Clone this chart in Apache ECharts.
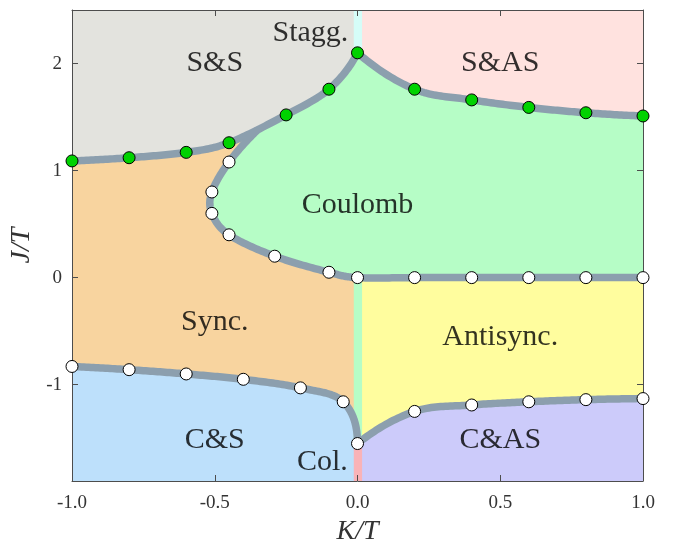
<!DOCTYPE html>
<html>
<head>
<meta charset="utf-8">
<script src="https://cdn.jsdelivr.net/npm/echarts@6/dist/echarts.min.js"></script>
<style>html,body{margin:0;padding:0;background:#fff}#c{width:673px;height:544px}</style>
</head>
<body>
<div id="c"></div>
<script>
// ---- data ----
const kMin = -1, kMax = 1, jMin = -1.9, jMax = 2.5;
const xTicks = [-1, -0.5, 0, 0.5, 1];
const yTicks = [-1, 0, 1, 2];

// upper boundary (green points)
const upperLeftK  = [-1, -0.8, -0.6, -0.45, -0.25, -0.1, 0];
const upperLeftJ  = [1.09, 1.12, 1.17, 1.26, 1.52, 1.76, 2.1];
const upperRightK = [0.2, 0.4, 0.6, 0.8, 1.0];
const upperRightJ = [1.76, 1.66, 1.59, 1.54, 1.51];

// Coulomb lobe boundary (white points) and J=0 line
const junctionK = -0.35, junctionJ = 1.38;   // where the lobe meets the upper boundary
const lobeK = [-0.45, -0.51, -0.51, -0.45, -0.29, -0.1];
const lobeJ = [1.08, 0.8, 0.6, 0.4, 0.2, 0.05];
const zeroK = [0, 0.2, 0.4, 0.6, 0.8, 1.0];
const zeroJ = [0, 0, 0, 0, 0, 0];

// lower boundaries (white points)
const lowerLeftK  = [-1, -0.8, -0.6, -0.4, -0.2, -0.05, 0];
const lowerLeftJ  = [-0.83, -0.86, -0.9, -0.95, -1.03, -1.16, -1.55];
const lowerRightK = [0.2, 0.4, 0.6, 0.8, 1.0];
const lowerRightJ = [-1.25, -1.19, -1.16, -1.14, -1.13];

// narrow strip around K = 0
const stripK = [-0.013, 0.016];

const regionNames = ['S&S', 'Stagg.', 'S&AS', 'Coulomb', 'Sync.', 'Antisync.', 'C&S', 'Col.', 'C&AS'];
const regionLabelK = [-0.5, -0.165, 0.5, 0.0, -0.5, 0.5, -0.5, -0.123, 0.5];
const regionLabelJ = [2.0, 2.28, 2.0, 0.68, -0.42, -0.56, -1.52, -1.72, -1.52];

// ---- helpers ----
const zip = (ks, js) => ks.map((k, i) => [k, js[i]]);
const upperLeft = zip(upperLeftK, upperLeftJ);
const upperRight = [upperLeft[upperLeft.length - 1]].concat(zip(upperRightK, upperRightJ));
const lobeCurve = [[junctionK, junctionJ]].concat(zip(lobeK, lobeJ), zip(zeroK, zeroJ));
const lowerLeft = zip(lowerLeftK, lowerLeftJ);
const lowerRight = [lowerLeft[lowerLeft.length - 1]].concat(zip(lowerRightK, lowerRightJ));

const greenPts = upperLeft.concat(zip(upperRightK, upperRightJ));
const whitePts = zip(lobeK, lobeJ).concat(zip(zeroK, zeroJ), lowerLeft, zip(lowerRightK, lowerRightJ));

const SEG = 24;
function smoothPx(pts) {
  const n = pts.length;
  if (n < 3) return pts.slice();
  const ext = (a, b, c) => [3 * a[0] - 3 * b[0] + c[0], 3 * a[1] - 3 * b[1] + c[1]];
  const P = [ext(pts[0], pts[1], pts[2])].concat(pts, [ext(pts[n - 1], pts[n - 2], pts[n - 3])]);
  const out = [pts[0]];
  for (let i = 1; i < n; i++) {
    const p0 = P[i - 1], p1 = P[i], p2 = P[i + 1], p3 = P[i + 2];
    const c1 = [p1[0] + (p2[0] - p0[0]) / 6, p1[1] + (p2[1] - p0[1]) / 6];
    const c2 = [p2[0] - (p3[0] - p1[0]) / 6, p2[1] - (p3[1] - p1[1]) / 6];
    for (let s = 1; s <= SEG; s++) {
      const t = s / SEG, u = 1 - t;
      const a = u * u * u, b = 3 * u * u * t, c = 3 * u * t * t, d = t * t * t;
      out.push([a * p1[0] + b * c1[0] + c * c2[0] + d * p2[0],
                a * p1[1] + b * c1[1] + c * c2[1] + d * p2[1]]);
    }
  }
  return out;
}

const C = {
  ss: '#e3e3de', sas: '#ffe2df', stagg: '#d5fdf8', coul: '#b6fdc6', sync: '#f8d49f',
  anti: '#fffd9e', cs: '#bde0fb', cas: '#cccbfa', col: '#f9b3b7', line: '#8c9fae'
};

function renderItem(params, api) {
  const px = p => api.coord(p);
  const curve = pts => smoothPx(pts.map(px));
  const rev = a => a.slice().reverse();
  const UL = curve(upperLeft), UR = curve(upperRight), LB = curve(lobeCurve);
  const LL = curve(lowerLeft), LR = curve(lowerRight);
  const poly = (points, fill) => ({ type: 'polygon', shape: { points }, style: { fill, stroke: null } });
  const line = (points) => ({ type: 'polyline', shape: { points },
    style: { stroke: C.line, lineWidth: 7.5, fill: null, lineJoin: 'round' } });
  const P = (k, j) => px([k, j]);
  const children = [
    poly(UL.concat([P(0, -1.55)], rev(LL)), C.sync),
    poly(LB.concat([P(1, 1.51)], rev(UR)), C.coul),
    poly([P(-1, jMax)].concat(UL, [P(0, jMax)]), C.ss),
    poly([P(0, jMax)].concat(UR, [P(1, jMax)]), C.sas),
    poly([P(stripK[0], jMax), P(stripK[0], 2.1), P(stripK[1], 2.1), P(stripK[1], jMax)], C.stagg),
    poly([P(0, 0), P(1, 0)].concat(rev(LR)), C.anti),
    poly([P(-1, jMin)].concat(LL, [P(0, jMin)]), C.cs),
    poly(LR.concat([P(1, jMin), P(0, jMin)]), C.cas),
    poly([P(stripK[0], 0), P(stripK[0], -1.55), P(stripK[1], -1.55), P(stripK[1], 0)], C.coul),
    poly([P(stripK[0], -1.55), P(stripK[0], jMin), P(stripK[1], jMin), P(stripK[1], -1.55)], C.col),
    line(UL), line(UR), line(LB), line(LL), line(LR)
  ];
  return { type: 'group', children };
}

const serif = 'Liberation Serif';
const axisCommon = {
  axisLine: { show: true, onZero: false, lineStyle: { color: '#4d4d4d', width: 1 } },
  axisTick: { show: true, inside: true, length: 6, lineStyle: { color: '#4d4d4d' } },
  splitLine: { show: false },
  z: 10
};

const chart = echarts.init(document.getElementById('c'), null, { renderer: 'canvas' });
chart.setOption({
  animation: false,
  backgroundColor: '#ffffff',
  grid: { left: 72, right: 30, top: 10, bottom: 63, containLabel: false, outerBoundsMode: 'none' },
  xAxis: [
    Object.assign({}, axisCommon, {
      type: 'value', min: kMin, max: kMax, position: 'bottom',
      axisTick: Object.assign({}, axisCommon.axisTick, { customValues: xTicks }),
      axisLabel: { customValues: xTicks, formatter: v => (Math.abs(v) < 1e-9 ? 0 : v).toFixed(1),
        fontFamily: serif, fontSize: 19, color: '#333', margin: 13 },
      name: 'K/T', nameLocation: 'middle', nameGap: 29,
      nameTextStyle: { fontFamily: serif, fontStyle: 'italic', fontSize: 28, color: '#333' }
    }),
    Object.assign({}, axisCommon, {
      type: 'value', min: kMin, max: kMax, position: 'top',
      axisTick: Object.assign({}, axisCommon.axisTick, { customValues: xTicks }),
      axisLabel: { show: false }
    })
  ],
  yAxis: [
    Object.assign({}, axisCommon, {
      type: 'value', min: jMin, max: jMax, position: 'left',
      axisTick: Object.assign({}, axisCommon.axisTick, { customValues: yTicks }),
      axisLabel: { customValues: yTicks, formatter: v => String(Math.round(v)),
        fontFamily: serif, fontSize: 19, color: '#333', margin: 10 },
      name: 'J/T', nameLocation: 'middle', nameGap: 33, nameRotate: 90,
      nameTextStyle: { fontFamily: serif, fontStyle: 'italic', fontSize: 28, color: '#333' }
    }),
    Object.assign({}, axisCommon, {
      type: 'value', min: jMin, max: jMax, position: 'right',
      axisTick: Object.assign({}, axisCommon.axisTick, { customValues: yTicks }),
      axisLabel: { show: false }
    })
  ],
  series: [
    { type: 'custom', renderItem, data: [[0, 0]], clip: true, z: 1, silent: true },
    { type: 'scatter', data: regionNames.map((n, i) => [regionLabelK[i], regionLabelJ[i], n]),
      symbolSize: 0, z: 5, clip: false, silent: true,
      label: { show: true, position: 'inside', formatter: p => p.data[2],
        fontFamily: serif, fontSize: 30, color: '#000' } },
    { type: 'scatter', data: greenPts, symbol: 'circle', symbolSize: 12, z: 20, clip: false,
      itemStyle: { color: '#00d200', borderColor: '#000', borderWidth: 1, opacity: 1 } },
    { type: 'scatter', data: whitePts, symbol: 'circle', symbolSize: 12, z: 20, clip: false,
      itemStyle: { color: '#ffffff', borderColor: '#000', borderWidth: 1, opacity: 1 } }
  ]
});
</script>
</body>
</html>
